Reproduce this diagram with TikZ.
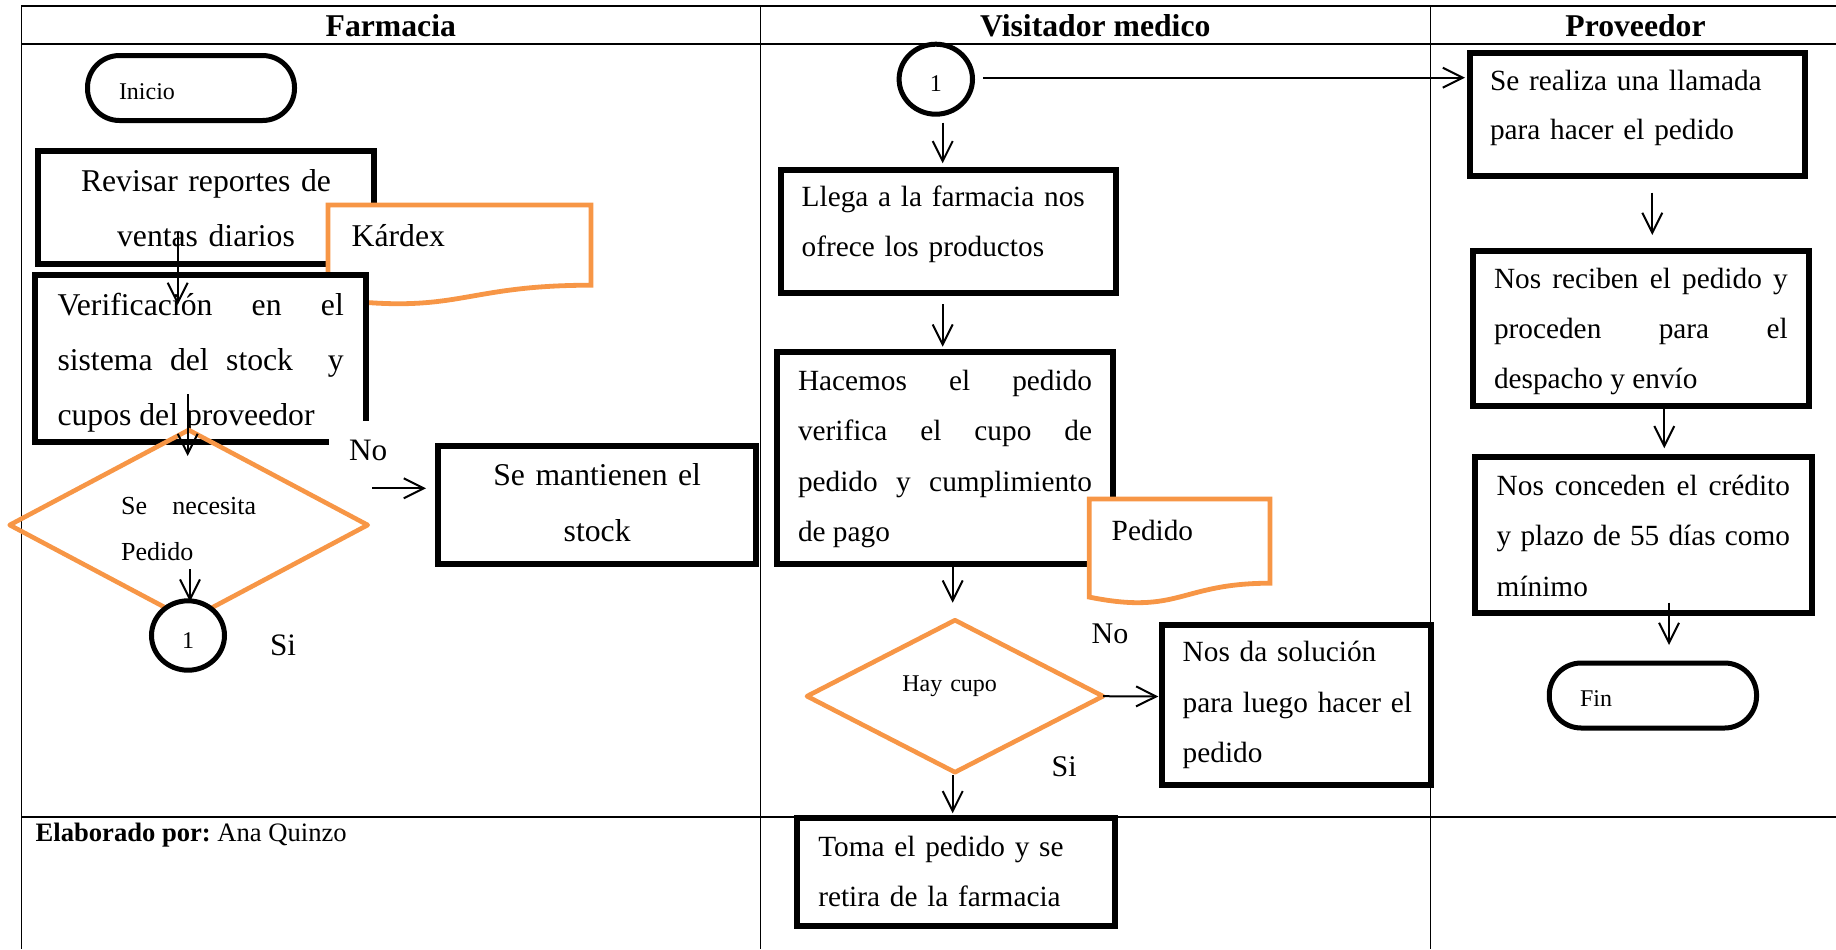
\documentclass[tikz,border=0pt]{standalone}
\usepackage{fontspec}
\setmainfont{Liberation Serif}
\usetikzlibrary{arrows.meta,shapes.geometric}
\definecolor{flowOrange}{HTML}{F79646}
\newcommand\farmtext{\fontsize{15.85pt}{27.5pt}\selectfont}
\newcommand\vistext{\fontsize{14.65pt}{25pt}\selectfont}
\newcommand\tagtext{\fontsize{12pt}{14pt}\selectfont}
\begin{document}
\begin{tikzpicture}[x=0.5pt,y=-0.5pt,
  every node/.style={inner sep=0pt, outer sep=0pt},
  grid/.style={line width=0.6pt},
  procbox/.style={draw, rectangle, line width=3pt, fill=white},
  termbox/.style={draw, rectangle, rounded corners=16pt, line width=2.5pt, fill=white, font=\tagtext, align=left},
  connector/.style={draw, ellipse, line width=2.5pt, fill=white, font=\tagtext},
  decision/.style={draw=flowOrange, diamond, line width=2.3pt, line join=round},
  docshape/.style={draw=flowOrange, fill=white, line width=2.4pt},
  flow/.style={line width=1pt, -{Straight Barb[length=10pt,width=10pt]}},
  head/.style={font=\fontsize{15.85pt}{18pt}\selectfont\bfseries, anchor=base},
  answer/.style={anchor=base west},
]
\useasboundingbox (0,0) rectangle (1836,949);

% table frame
\draw[grid] (21.3,6) -- (1836,6);
\draw[grid] (21.3,44) -- (1836,44);
\draw[grid] (21.3,817) -- (1836,817);
\draw[grid] (21.3,6) -- (21.3,949);
\draw[grid] (760.3,6) -- (760.3,949);
\draw[grid] (1430.3,6) -- (1430.3,949);

\node[head] (hfarm) at (390.8,36.5) {Farmacia};
\node[head] (hvis) at (1095.3,36.5) {Visitador medico};
\node[head] (hprov) at (1635.5,36.5) {Proveedor};
\node[anchor=base west, font=\fontsize{13.3pt}{16pt}\selectfont] (autor) at (35.7,841.7) {\textbf{Elaborado por:}~Ana Quinzo};

% ---------- Farmacia ----------
\node[termbox, minimum width=103.5pt, minimum height=32.5pt, text width=72pt, text height=11pt, text depth=0pt] (inicio) at (191,88) {Inicio};

\node[procbox, minimum width=168pt, minimum height=56.5pt, text width=150pt, align=center, font=\farmtext, text height=0pt, text depth=15.8pt] (revisar) at (206,207.5) {Revisar reportes de\\ventas diarios};

\filldraw[docshape] (328,205) -- (591,205) -- (591,285.2) .. controls (459.5,285.2) and (459.5,315.75) .. (328,298.4) -- cycle;
\node[anchor=base west, font=\farmtext] (kardex) at (351.7,246) {Kárdex};

\node[procbox, minimum width=165.35pt, minimum height=83.5pt, text width=143.15pt, align=justify, font=\farmtext, text height=0pt, text depth=43.5pt] (verif) at (200.65,358.5) {Verificación en el\linebreak sistema del stock\ \ y\linebreak cupos del proveedor};

\node[anchor=north west, fill=white, inner xsep=10pt, text height=19.5pt, text depth=5pt, font=\fontsize{15.6pt}{18pt}\selectfont] (nofarm) at (329,421) {No};

\coordinate (revOut) at (177.7,231.7);
\coordinate (verIn) at (177.7,305);
\draw[flow] (revOut) -- (verIn);

\node[decision, minimum width=179pt, minimum height=95pt, text width=67.5pt, align=justify, font=\fontsize{13pt}{23pt}\selectfont, text height=0pt, text depth=11pt] (necesita) at (188.7,525) {Se necesita\linebreak Pedido};

\coordinate (verOut) at (187.7,394);
\coordinate (necIn) at (187.7,456);
\draw[flow] (verOut) -- (necIn);

\coordinate (necOut) at (190,569);
\coordinate (cfIn) at (190,601.7);
\draw[flow] (necOut) -- (cfIn);
\node[connector, minimum width=36.5pt, minimum height=34.7pt, text height=12.8pt, text depth=0pt] (c1f) at (188,635.5) {1};
\node[answer, font=\fontsize{15.6pt}{18pt}\selectfont] (sifarm) at (270,655) {Si};

\coordinate (noOut) at (372.3,488.3);
\coordinate (mantIn) at (426,488.3);
\draw[flow] (noOut) -- (mantIn);
\node[procbox, minimum width=159.15pt, minimum height=59pt, text width=150pt, align=center, font=\fontsize{15.85pt}{28pt}\selectfont, text height=0pt, text depth=19.8pt] (mantiene) at (597.15,505.3) {Se mantienen el\\stock};

% ---------- Visitador medico ----------
\node[connector, minimum width=36.7pt, minimum height=35pt, text height=12.5pt, text depth=0pt] (c1v) at (935.8,79.2) {1};

\node[procbox, minimum width=167.5pt, minimum height=61.65pt, text width=147.1pt, align=left, font=\vistext, text height=0pt, text depth=24.65pt] (llega) at (948.8,231.35) {\mbox{Llega a la farmacia nos}\\\mbox{ofrece los productos}};

\node[procbox, minimum width=168pt, minimum height=106.15pt, text width=147pt, align=justify, font=\fontsize{14.65pt}{25.3pt}\selectfont, text height=0pt, text depth=68.15pt] (hacemos) at (945,458.15) {Hacemos el pedido\linebreak verifica el cupo de\linebreak pedido y cumplimiento\linebreak de pago};

\filldraw[docshape] (1089.3,499) -- (1270,499) -- (1270,583.2) .. controls (1179.65,583.2) and (1179.65,615.3) .. (1089.3,597.1) -- cycle;
\node[anchor=base west, font=\vistext] (pedido) at (1111.7,540) {Pedido};

\node[decision, minimum width=148pt, minimum height=76pt, text width=52.7pt, align=left, font=\tagtext, text height=0pt, text depth=4.8pt] (cupo) at (955,696.2) {\mbox{Hay cupo}};

\node[procbox, minimum width=134.5pt, minimum height=80.3pt, text width=114.1pt, align=left, font=\fontsize{14.65pt}{25.25pt}\selectfont, text height=0pt, text depth=43.3pt] (solucion) at (1296.8,705) {\mbox{Nos da solución}\\\mbox{para luego hacer el}\\\mbox{pedido}};

\node[procbox, minimum width=159pt, minimum height=54.15pt, text width=138pt, align=left, font=\vistext, text height=0pt, text depth=16.15pt] (toma) at (956.3,872.15) {\mbox{Toma el pedido y se}\\\mbox{retira de la farmacia}};

\node[answer, font=\fontsize{15pt}{18pt}\selectfont] (novis) at (1091.7,643.3) {No};
\node[answer, font=\fontsize{15pt}{18pt}\selectfont] (sivis) at (1051.7,776.7) {Si};

\coordinate (cvRight) at (983.3,77.7);
\coordinate (llamIn) at (1465,77.7);
\draw[flow] (cvRight) -- (llamIn);
\coordinate (cvDown) at (942.7,122.7);
\coordinate (llegaIn) at (942.7,163.3);
\draw[flow] (cvDown) -- (llegaIn);
\coordinate (llegaOut) at (942.7,304);
\coordinate (hacIn) at (942.7,346.7);
\draw[flow] (llegaOut) -- (hacIn);
\coordinate (hacOut) at (952.7,561.7);
\coordinate (cupoIn) at (952.7,602.7);
\draw[flow] (hacOut) -- (cupoIn);
\coordinate (solIn) at (1158.3,696.5);
\draw[flow] (cupo.east) -- (solIn);
\coordinate (cupoOut) at (952.7,775);
\coordinate (tomaIn) at (952.7,813.3);
\draw[flow] (cupoOut) -- (tomaIn);

% ---------- Proveedor ----------
\node[procbox, minimum width=167.8pt, minimum height=61.65pt, text width=147.5pt, align=left, font=\fontsize{14.65pt}{24.65pt}\selectfont, text height=0pt, text depth=24.65pt] (llamada) at (1637.5,114.65) {\mbox{Se realiza una llamada}\\\mbox{para hacer el pedido}};

\node[procbox, minimum width=167.85pt, minimum height=77.5pt, text width=146.85pt, align=justify, font=\vistext, text height=0pt, text depth=40.5pt] (recibe) at (1640.85,328.8) {Nos reciben el pedido y\linebreak proceden para el\linebreak despacho y envío};

\node[procbox, minimum width=168.65pt, minimum height=77.85pt, text width=146.65pt, align=justify, font=\fontsize{14.65pt}{25.4pt}\selectfont, text height=0pt, text depth=39.85pt] (credito) at (1643.35,534.85) {Nos conceden el crédito\linebreak y plazo de 55 días como\linebreak mínimo};

\node[termbox, minimum width=103.65pt, minimum height=32.5pt, text width=72.9pt, text height=11.2pt, text depth=0pt] (fin) at (1652.9,695.5) {Fin};

\coordinate (llamOut) at (1652.3,192.7);
\coordinate (recIn) at (1652.3,235);
\draw[flow] (llamOut) -- (recIn);
\coordinate (recOut) at (1664.3,409.3);
\coordinate (credIn) at (1664.3,448.3);
\draw[flow] (recOut) -- (credIn);
\coordinate (credOut) at (1669,602.7);
\coordinate (finIn) at (1669,645);
\draw[flow] (credOut) -- (finIn);
\end{tikzpicture}
\end{document}
